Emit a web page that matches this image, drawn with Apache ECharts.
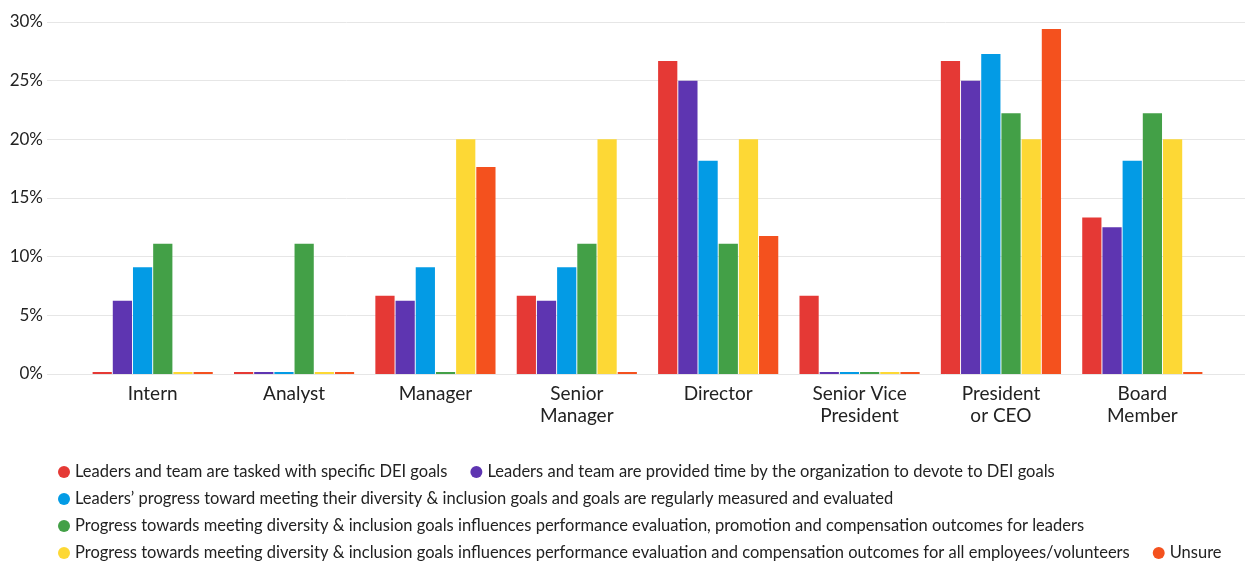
<!DOCTYPE html>
<html>
<head>
<meta charset="utf-8">
<style>
  html, body { margin: 0; padding: 0; background: #fff; }
  #chart { width: 1245px; height: 561px; }
</style>
<script src="https://cdn.jsdelivr.net/npm/echarts@6/dist/echarts.min.js"></script>
</head>
<body>
<div id="chart"></div>
<script>
// categories on the x axis
const categories = ['Intern', 'Analyst', 'Manager', 'Senior\nManager', 'Director', 'Senior Vice\nPresident', 'President\nor CEO', 'Board\nMember']

// percent values, one array per series
const tasked      = [0, 0, 6.67, 6.67, 26.67, 6.67, 26.67, 13.33]
const timeGiven   = [6.25, 0, 6.25, 6.25, 25, 0, 25, 12.5]
const measured    = [9.09, 0, 9.09, 9.09, 18.18, 0, 27.27, 18.18]
const leadersEval = [11.11, 11.11, 0, 11.11, 11.11, 0, 22.22, 22.22]
const allEval     = [0, 0, 20, 20, 20, 0, 20, 20]
const unsure      = [0, 0, 17.65, 0, 11.76, 0, 29.41, 0]

const yTicks = [0, 5, 10, 15, 20, 25, 30]

const seriesNames = [
  'Leaders and team are tasked with specific DEI goals',
  'Leaders and team are provided time by the organization to devote to DEI goals',
  'Leaders\u2019 progress toward meeting their diversity & inclusion goals and goals are regularly measured and evaluated',
  'Progress towards meeting diversity & inclusion goals influences performance evaluation, promotion and compensation outcomes for leaders',
  'Progress towards meeting diversity & inclusion goals influences performance evaluation and compensation outcomes for all employees/volunteers',
  'Unsure',
]
const seriesData = [tasked, timeGiven, measured, leadersEval, allEval, unsure]
const colors = ['#e53935', '#5e35b1', '#039be5', '#43a047', '#fdd835', '#f4511e']

const FONT = 'Lato, "Noto Sans", sans-serif'

const chart = echarts.init(document.getElementById('chart'), null, { renderer: 'canvas' })

const option = {
  animation: false,
  backgroundColor: '#fff',
  color: colors,
  textStyle: { fontFamily: FONT },
  grid: [
    { left: 47, right: 0, top: 22, bottom: 187 },   // gridlines + y labels
    { left: 82, right: 32, top: 22, bottom: 187 },  // bars
  ],
  xAxis: [
    { gridIndex: 0, type: 'value', show: false, min: 0, max: 1 },
    {
      gridIndex: 1, type: 'category', data: categories,
      axisLine: { show: false }, axisTick: { show: false },
      axisLabel: { color: '#222', fontSize: 19, fontFamily: FONT, margin: 9, lineHeight: 22, interval: 0 },
    },
  ],
  yAxis: [
    {
      gridIndex: 0, type: 'value', min: yTicks[0], max: yTicks[yTicks.length - 1], interval: 5,
      axisLine: { show: false }, axisTick: { show: false },
      axisLabel: { color: '#222', fontSize: 17, fontFamily: FONT, margin: 4, formatter: v => v + '%' },
      splitLine: { lineStyle: { color: '#e6e6e6', width: 1 } },
    },
    { gridIndex: 1, type: 'value', min: 0, max: 30, show: false },
  ],
  legend: {
    left: 53, right: 0, top: 457,
    icon: 'circle', itemWidth: 12, itemHeight: 12, itemGap: 7,
    textStyle: { color: '#222', fontSize: 16.5, fontFamily: FONT, lineHeight: 20, padding: [0, 16, 0, 0] },
    data: seriesNames.map((n, i) => i === seriesNames.length - 1
      ? { name: n, textStyle: { padding: 0 } }
      : { name: n }),
  },
  series: seriesData.map((d, i) => ({
    name: seriesNames[i], type: 'bar', data: d,
    xAxisIndex: 1, yAxisIndex: 1,
    barGap: '5%', barCategoryGap: '15%', barMinHeight: 2,
    itemStyle: { color: colors[i] },
  })),
}
chart.setOption(option)
</script>
</body>
</html>
